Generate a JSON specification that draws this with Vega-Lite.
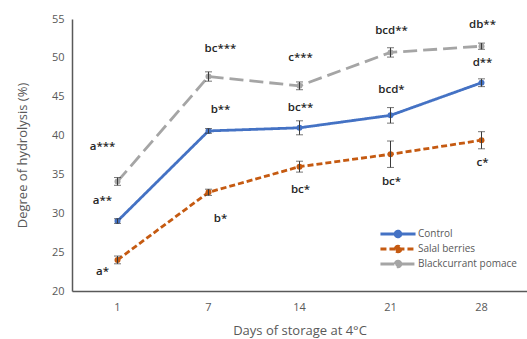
{
  "$schema": "https://vega.github.io/schema/vega-lite/v6.json",
  "autosize": {"type": "none"},
  "width": 455,
  "height": 272,
  "padding": {"left": 72, "top": 19, "right": 0, "bottom": 48},
  "background": "white",
  "config": {
    "view": {"stroke": null},
    "font": "Open Sans",
    "axisY": {
      "labelOverlap": false, "grid": false, "ticks": false, "domainColor": "#595959", "domainWidth": 1.5,
      "labelColor": "#595959", "labelFontSize": 11, "labelPadding": 8,
      "titleColor": "#595959", "titleFontSize": 13, "titleFontWeight": "normal", "titlePadding": 22
    }
  },
  "data": {"values": [
    {"day": "1", "series": "Control", "value": 29.0, "err": 0.3, "label": "a**", "labelY": 31.6},
    {"day": "7", "series": "Control", "value": 40.6, "err": 0.3, "label": "b**", "labelY": 43.3},
    {"day": "14", "series": "Control", "value": 41.0, "err": 0.9, "label": "bc**", "labelY": 43.6},
    {"day": "21", "series": "Control", "value": 42.6, "err": 1.0, "label": "bcd*", "labelY": 45.9},
    {"day": "28", "series": "Control", "value": 46.8, "err": 0.5, "label": "d**", "labelY": 49.3},
    {"day": "1", "series": "Salal berries", "value": 24.0, "err": 0.5, "label": "a*", "labelY": 22.4},
    {"day": "7", "series": "Salal berries", "value": 32.7, "err": 0.4, "label": "b*", "labelY": 29.3},
    {"day": "14", "series": "Salal berries", "value": 36.0, "err": 0.7, "label": "bc*", "labelY": 33.0},
    {"day": "21", "series": "Salal berries", "value": 37.6, "err": 1.7, "label": "bc*", "labelY": 34.0},
    {"day": "28", "series": "Salal berries", "value": 39.4, "err": 1.1, "label": "c*", "labelY": 36.5},
    {"day": "1", "series": "Blackcurrant pomace", "value": 34.1, "err": 0.5, "label": "a***", "labelY": 38.5},
    {"day": "7", "series": "Blackcurrant pomace", "value": 47.6, "err": 0.6, "label": "bc***", "labelY": 51.1},
    {"day": "14", "series": "Blackcurrant pomace", "value": 46.4, "err": 0.5, "label": "c***", "labelY": 50.0},
    {"day": "21", "series": "Blackcurrant pomace", "value": 50.7, "err": 0.6, "label": "bcd**", "labelY": 53.5},
    {"day": "28", "series": "Blackcurrant pomace", "value": 51.5, "err": 0.4, "label": "db**", "labelY": 54.2}
  ]},
  "encoding": {
    "x": {
      "field": "day", "type": "ordinal", "sort": ["1", "7", "14", "21", "28"],
      "scale": {"paddingInner": 0, "paddingOuter": 0},
      "axis": {
        "title": "Days of storage at 4°C", "labelAngle": 0, "ticks": false,
        "domainColor": "#595959", "domainWidth": 1.5,
        "labelColor": "#595959", "labelFontSize": 11, "labelPadding": 10,
        "titleColor": "#595959", "titleFontSize": 13, "titleFontWeight": "normal", "titlePadding": 12
      }
    }
  },
  "layer": [
    {
      "mark": {"type": "line", "strokeWidth": 2.8},
      "encoding": {
        "y": {
          "field": "value", "type": "quantitative",
          "scale": {"domain": [20, 55], "nice": false, "zero": false},
          "axis": {"title": "Degree of hydrolysis (%)", "values": [20, 25, 30, 35, 40, 45, 50, 55]}
        },
        "color": {
          "field": "series", "type": "nominal",
          "scale": {"domain": ["Control", "Salal berries", "Blackcurrant pomace"], "range": ["#4472C4", "#C55A11", "#A5A5A5"]},
          "legend": {
            "title": null, "orient": "none", "legendX": 320, "legendY": 209,
            "symbolType": "M-4,0L4,0M-0.65,0A0.65,0.65 0 1,1 0.65,0A0.65,0.65 0 1,1 -0.65,0Z",
            "symbolSize": 77, "symbolStrokeWidth": 2.8,
            "labelColor": "#595959", "labelFontSize": 10, "rowPadding": -6, "labelOffset": 14,
            "encode": {"symbols": {"update": {"fill": {"scale": "color", "field": "value"}}}}
          }
        },
        "strokeDash": {
          "field": "series", "type": "nominal",
          "scale": {"domain": ["Control", "Salal berries", "Blackcurrant pomace"], "range": [[1, 0], [6, 3], [14, 6]]},
          "legend": {
            "title": null, "orient": "none", "legendX": 320, "legendY": 209,
            "symbolType": "M-4,0L4,0M-0.65,0A0.65,0.65 0 1,1 0.65,0A0.65,0.65 0 1,1 -0.65,0Z",
            "symbolSize": 77, "symbolStrokeWidth": 2.8,
            "labelColor": "#595959", "labelFontSize": 10, "rowPadding": -6, "labelOffset": 14,
            "encode": {"symbols": {"update": {"fill": {"scale": "color", "field": "value"}}}}
          }
        }
      }
    },
    {
      "mark": {"type": "point", "filled": true, "size": 36, "opacity": 1},
      "encoding": {
        "y": {"field": "value", "type": "quantitative", "axis": {"title": "Degree of hydrolysis (%)", "values": [20, 25, 30, 35, 40, 45, 50, 55]}},
        "color": {"field": "series", "type": "nominal", "legend": null}
      }
    },
    {
      "mark": {"type": "errorbar", "ticks": {"size": 7}, "color": "#3a3a3a", "thickness": 1},
      "encoding": {
        "y": {"field": "value", "type": "quantitative", "axis": {"title": "Degree of hydrolysis (%)", "values": [20, 25, 30, 35, 40, 45, 50, 55]}},
        "yError": {"field": "err"}
      }
    },
    {
      "transform": [{"filter": "datum.day == '1'"}],
      "mark": {"type": "text", "dx": -15, "fontSize": 11.5, "fill": "#262626", "fontWeight": 600},
      "encoding": {"y": {"field": "labelY", "type": "quantitative", "axis": {"title": "Degree of hydrolysis (%)", "values": [20, 25, 30, 35, 40, 45, 50, 55]}}, "text": {"field": "label"}}
    },
    {
      "transform": [{"filter": "datum.day == '7'"}],
      "mark": {"type": "text", "dx": 12, "fontSize": 11.5, "fill": "#262626", "fontWeight": 600},
      "encoding": {"y": {"field": "labelY", "type": "quantitative", "axis": {"title": "Degree of hydrolysis (%)", "values": [20, 25, 30, 35, 40, 45, 50, 55]}}, "text": {"field": "label"}}
    },
    {
      "transform": [{"filter": "datum.day == '14' || datum.day == '21' || datum.day == '28'"}],
      "mark": {"type": "text", "dx": 1, "fontSize": 11.5, "fill": "#262626", "fontWeight": 600},
      "encoding": {"y": {"field": "labelY", "type": "quantitative", "axis": {"title": "Degree of hydrolysis (%)", "values": [20, 25, 30, 35, 40, 45, 50, 55]}}, "text": {"field": "label"}}
    }
  ]
}
